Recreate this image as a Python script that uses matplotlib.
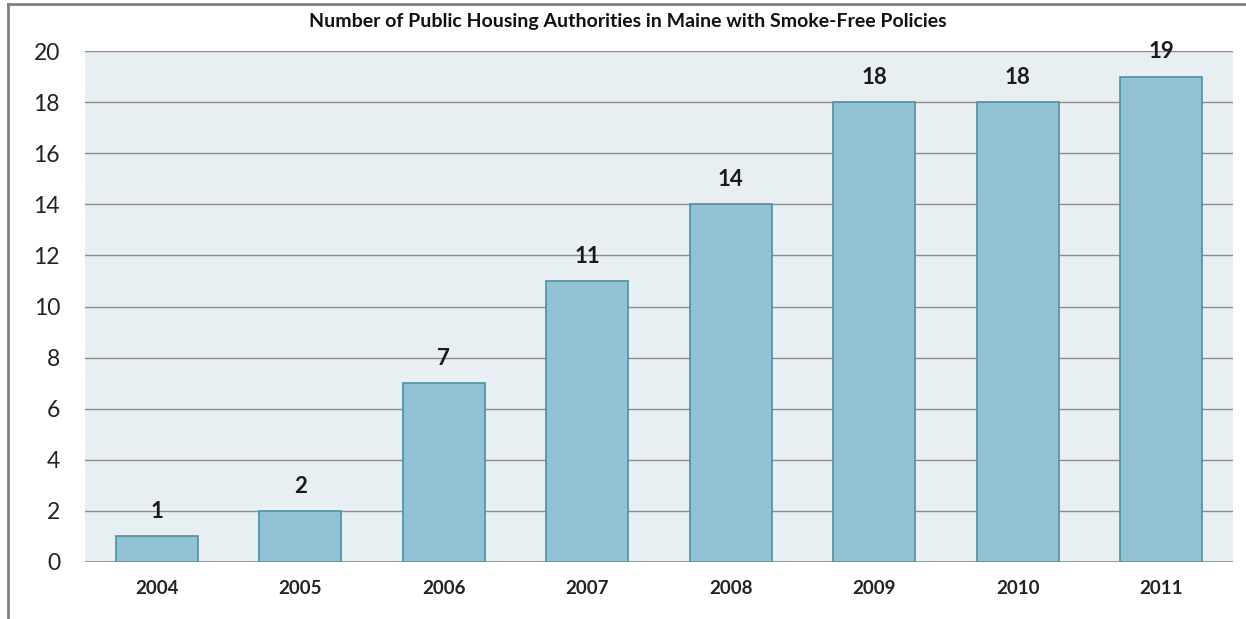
import matplotlib
matplotlib.use("Agg")
import matplotlib.pyplot as plt
from matplotlib.lines import Line2D

years = ["2004", "2005", "2006", "2007", "2008", "2009", "2010", "2011"]
counts = [1, 2, 7, 11, 14, 18, 18, 19]
yticks = [0, 2, 4, 6, 8, 10, 12, 14, 16, 18, 20]
title = "Number of Public Housing Authorities in Maine with Smoke-Free Policies"

plt.rcParams['font.family'] = ['Lato', 'DejaVu Sans']

fig = plt.figure(figsize=(12.46, 6.19), dpi=100)
ax = fig.add_axes([85/1246, 1-562/619, (1233-85)/1246, (562-51)/619])
ax.set_facecolor("#E8EFF3")

x = range(len(years))
bars = ax.bar(x, counts, width=0.57, color="#92C2D4", edgecolor="#4A91A8", linewidth=1.2, zorder=3)
for xi, v in zip(x, counts):
    ax.text(xi, v + 0.55, str(v), ha="center", va="bottom", fontsize=16, fontweight="bold", color="#1a1a1a", zorder=4)

ax.set_xlim(-0.5, len(years) - 0.5)
ax.set_ylim(0, 20)
ax.set_yticks(yticks)
ax.set_yticklabels([str(t) for t in yticks], fontsize=16.5, color="#222222")
ax.set_xticks(list(x))
ax.set_xticklabels(years, fontsize=13.5, fontweight="bold", color="#222222")
ax.tick_params(axis="both", length=0)
ax.tick_params(axis="y", pad=18)
ax.tick_params(axis="x", pad=13)
ax.grid(axis="y", color="#8C8C8C", linewidth=1.0, zorder=1)
for s in ax.spines.values():
    s.set_visible(False)
ax.axhline(0, color="#8C8C8C", linewidth=1.2, zorder=4)

fig.text(628/1246, 1-22/619, title, ha="center", va="center", fontsize=14, fontweight="bold", color="#111111")

# outer frame lines (top and left)
fig.add_artist(Line2D([8/1246, 1], [1-4/619, 1-4/619], color="#808080", linewidth=2, transform=fig.transFigure))
fig.add_artist(Line2D([8/1246, 8/1246], [0, 1-4/619], color="#808080", linewidth=2, transform=fig.transFigure))

fig.savefig("out.png", dpi=100)
